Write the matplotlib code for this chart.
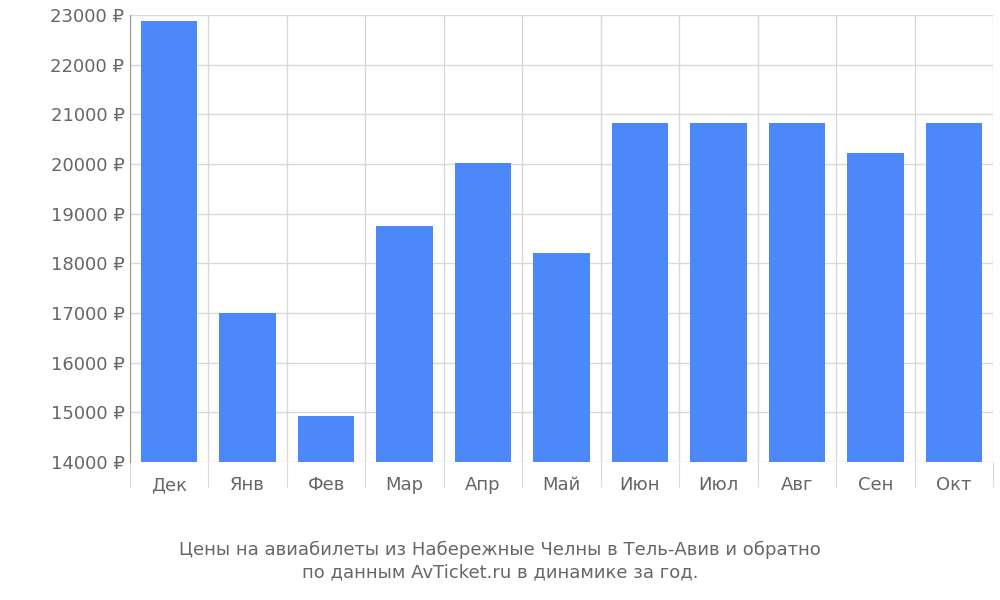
import matplotlib
matplotlib.use("Agg")
import matplotlib.pyplot as plt
import numpy as np

months = ["Дек", "Янв", "Фев", "Мар", "Апр", "Май", "Июн", "Июл", "Авг", "Сен", "Окт"]
prices = [22870, 17000, 14930, 18750, 20020, 18200, 20820, 20820, 20820, 20230, 20820]
yticks = list(range(14000, 23001, 1000))
caption = "Цены на авиабилеты из Набережные Челны в Тель-Авив и обратно\nпо данным AvTicket.ru в динамике за год."

fig = plt.figure(figsize=(10, 6), dpi=100)
ax = fig.add_axes([0.130, 0.230, 0.863, 0.745])
x = np.arange(len(months))
ax.bar(x, [p - 14000 for p in prices], bottom=14000, width=0.72, color="#4d88fb", zorder=3)
ax.set_xlim(-0.5, len(months) - 0.5)
ax.set_ylim(14000, 23000)
ax.set_yticks(yticks)
ax.set_yticklabels([f"{v} ₽" for v in yticks])
ax.set_xticks(np.arange(-0.5, len(months)), minor=False)
ax.set_xticklabels([])
ax.set_xticks(x, minor=True)
ax.set_xticklabels(months, minor=True)
ax.grid(True, which="major", color="#d9d9d9", linewidth=1, zorder=0)
for s in ["top", "right", "bottom"]:
    ax.spines[s].set_visible(False)
ax.spines["left"].set_color("#999999")
ax.tick_params(axis="x", which="major", length=18, color="#d9d9d9")
ax.tick_params(axis="x", which="minor", length=0, pad=10, labelsize=13, labelcolor="#666666")
ax.tick_params(axis="y", length=0, pad=4, labelsize=13, labelcolor="#666666")
fig.text(0.5, 0.065, caption, ha="center", va="center", fontsize=13, color="#666666", linespacing=1.3)
fig.savefig("out.png")
